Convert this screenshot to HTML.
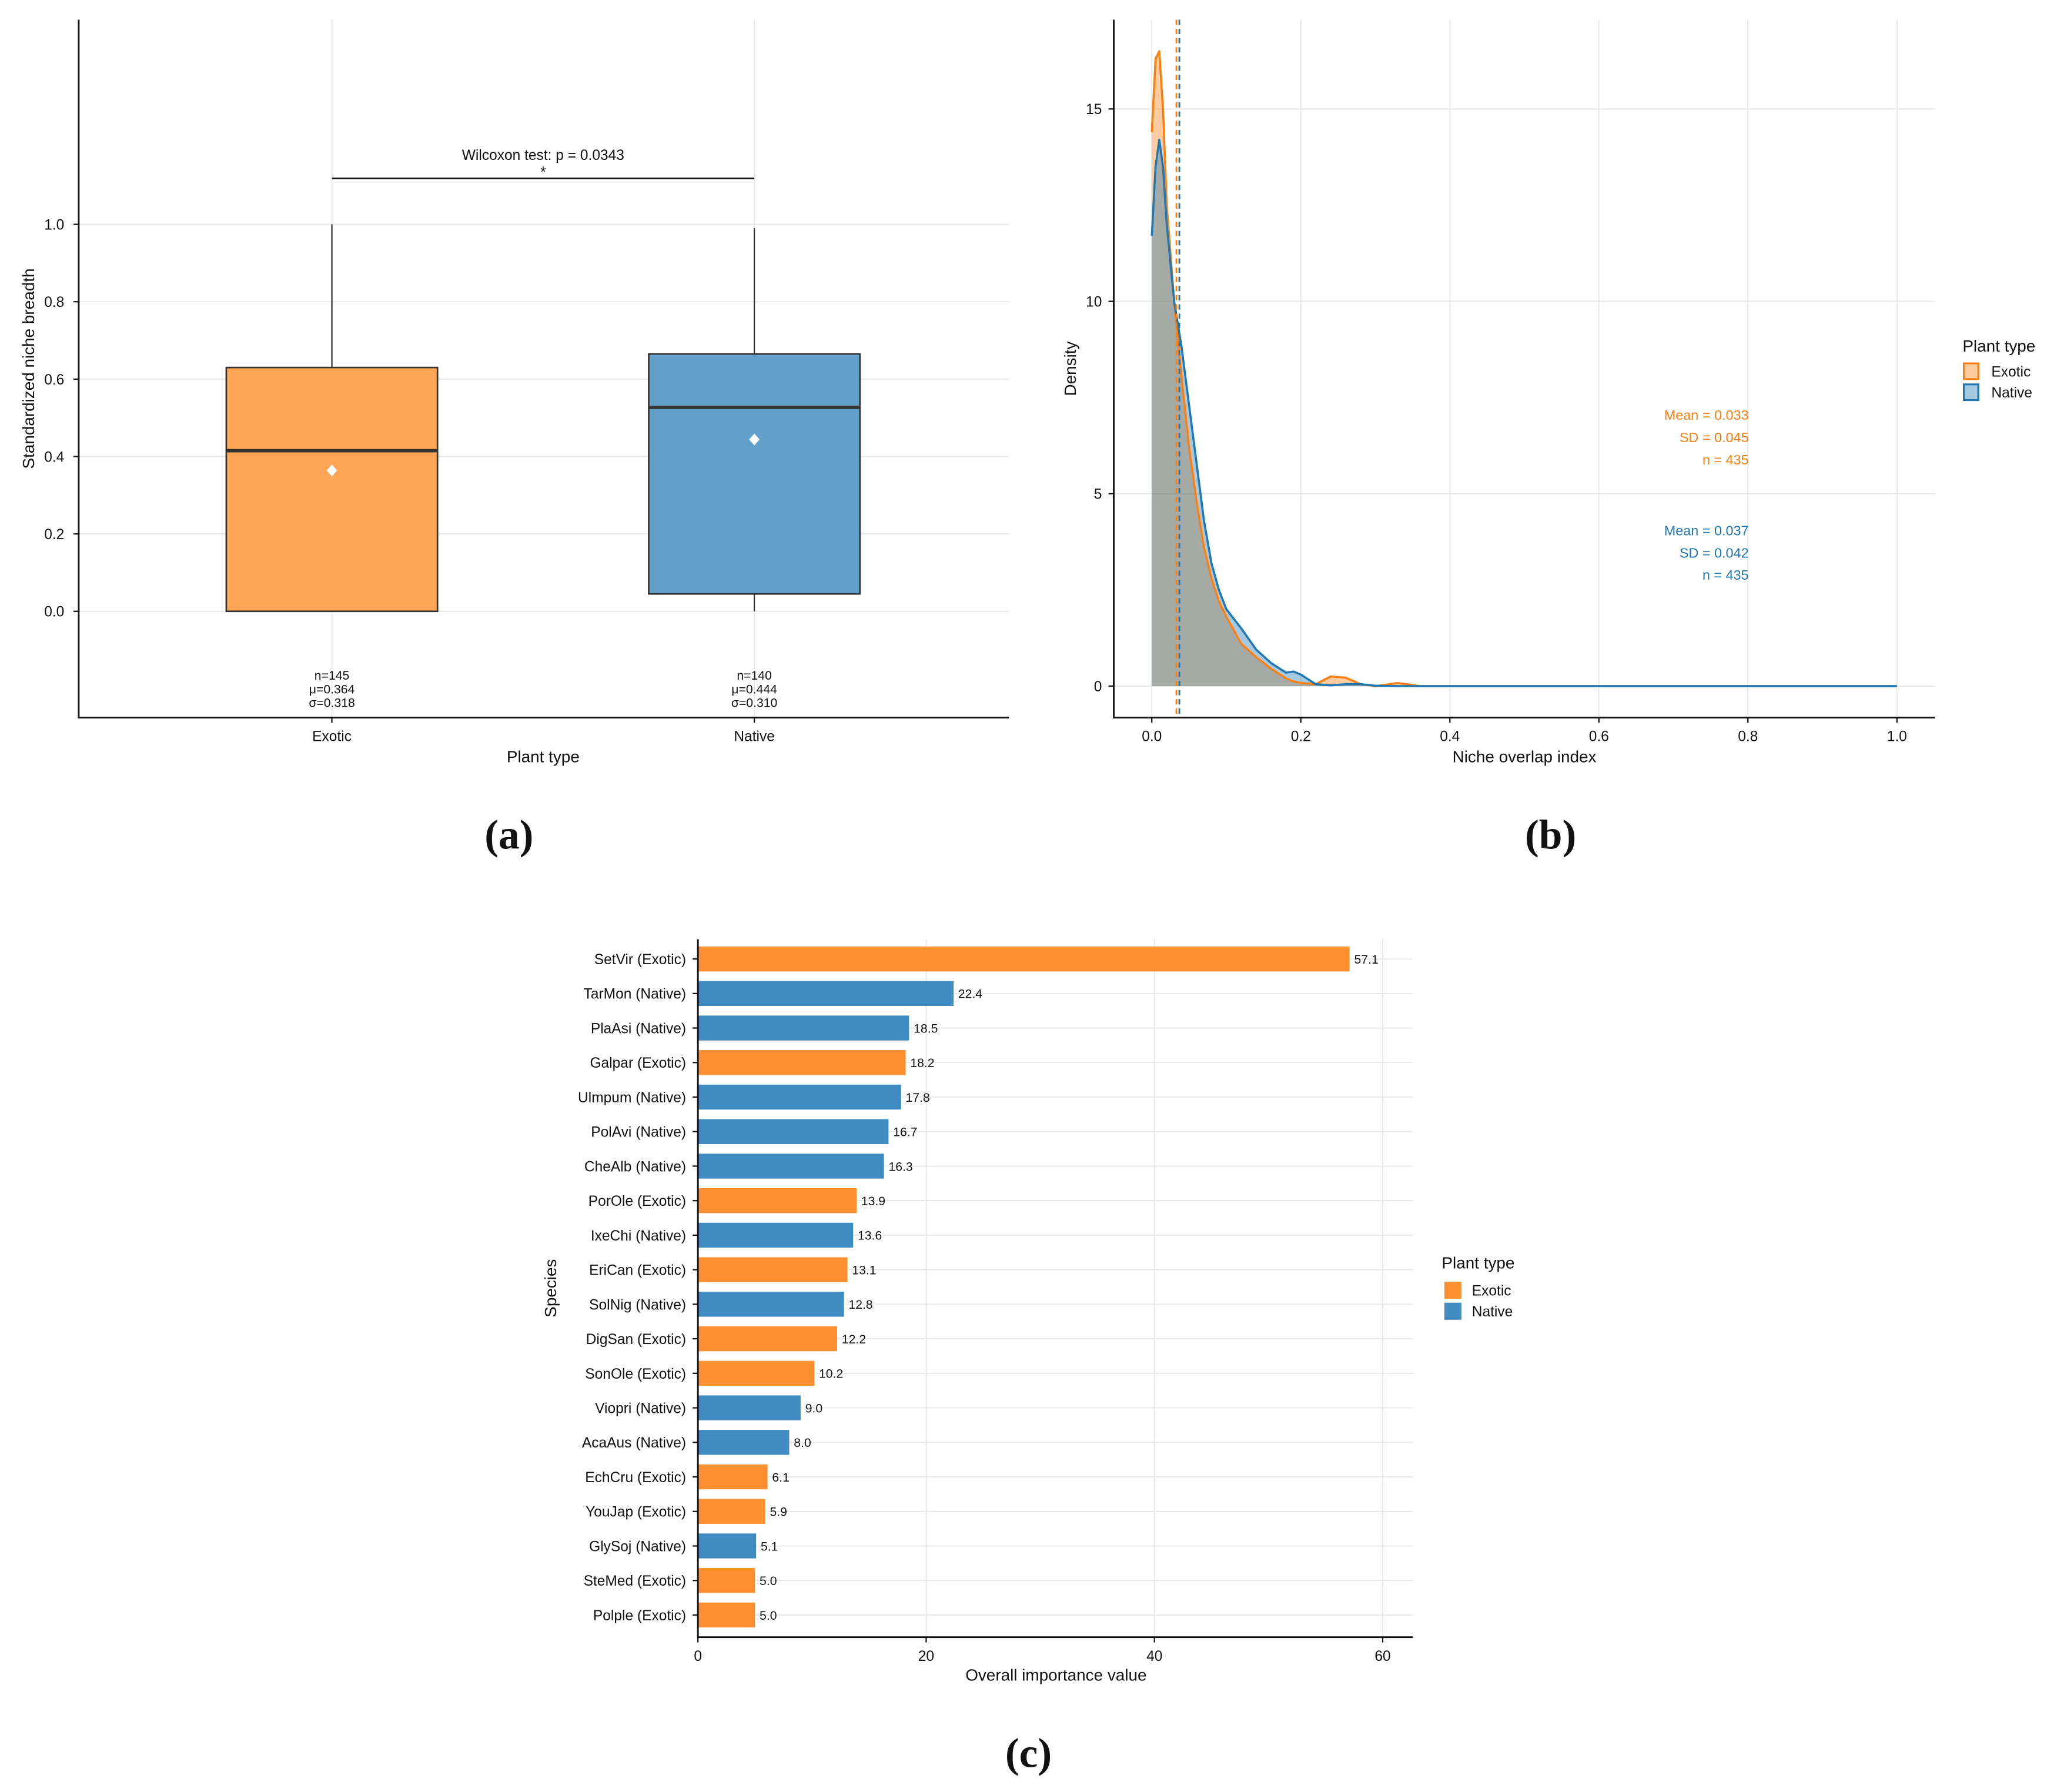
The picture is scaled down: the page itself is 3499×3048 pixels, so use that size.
<!DOCTYPE html>
<html><head><meta charset="utf-8"><style>
html,body{margin:0;padding:0;background:#fff;}
svg{display:block;font-family:"Liberation Sans",Arial,sans-serif;}
</style></head><body>
<svg id="root" width="3499" height="3048" viewBox="0 0 1568 1366" preserveAspectRatio="none" xmlns="http://www.w3.org/2000/svg">
<g id="pa"></g>
<g id="pb"></g>
<g id="pc"></g>
</svg>
<script>
// ---------- Panel (a) data ----------
const boxCategories = ["Exotic", "Native"];
const boxQ1 = [0.0, 0.045];
const boxMedian = [0.415, 0.527];
const boxQ3 = [0.63, 0.665];
const boxWhiskLow = [0.0, 0.0];
const boxWhiskHigh = [1.0, 0.99];
const boxMean = [0.364, 0.444];
const boxN = [145, 140];
const boxSD = [0.318, 0.310];
const boxYTicks = [0, 0.2, 0.4, 0.6, 0.8, 1.0];

// ---------- Panel (b) data ----------
const densX = [0,0.005,0.01,0.015,0.02,0.03,0.04,0.05,0.06,0.07,0.08,0.09,0.1,0.12,0.14,0.16,0.18,0.19,0.2,0.22,0.24,0.26,0.28,0.3,0.33,0.36,0.4,1.0];
const densExotic = [14.4,16.3,16.5,15,12.5,10,8,6.2,4.8,3.6,2.8,2.2,1.8,1.1,0.75,0.45,0.2,0.12,0.08,0.05,0.25,0.22,0.05,0.0,0.08,0,0,0];
const densNative = [11.7,13.5,14.2,13.5,12,10,8.8,7.3,5.8,4.3,3.2,2.5,2.0,1.5,0.95,0.6,0.35,0.38,0.3,0.05,0.02,0.05,0.05,0.01,0,0,0,0];
const densMeans = [0.033, 0.037];
const densSDs = [0.045, 0.042];
const densNs = [435, 435];
const densXTicks = [0,0.2,0.4,0.6,0.8,1.0];
const densYTicks = [0,5,10,15];

// ---------- Panel (c) data ----------
const species = ["SetVir (Exotic)","TarMon (Native)","PlaAsi (Native)","Galpar (Exotic)","Ulmpum (Native)","PolAvi (Native)","CheAlb (Native)","PorOle (Exotic)","IxeChi (Native)","EriCan (Exotic)","SolNig (Native)","DigSan (Exotic)","SonOle (Exotic)","Viopri (Native)","AcaAus (Native)","EchCru (Exotic)","YouJap (Exotic)","GlySoj (Native)","SteMed (Exotic)","Polple (Exotic)"];
const importance = [57.1,22.4,18.5,18.2,17.8,16.7,16.3,13.9,13.6,13.1,12.8,12.2,10.2,9.0,8.0,6.1,5.9,5.1,5.0,5.0];
const plantType = ["Exotic","Native","Native","Exotic","Native","Native","Native","Exotic","Native","Exotic","Native","Exotic","Exotic","Native","Native","Exotic","Exotic","Native","Exotic","Exotic"];
const barXTicks = [0,20,40,60];

const NS="http://www.w3.org/2000/svg";
function mk(parent,tag,attrs,text){const e=document.createElementNS(NS,tag);for(const k in attrs)e.setAttribute(k,attrs[k]);if(text!==undefined)e.textContent=text;parent.appendChild(e);return e;}

// ===== Panel A =====
(function(){
const g=document.getElementById('pa');
const yA=v=>466-v*295;
const xs=[253,575];
const grid='#e6e6e6';
boxYTicks.forEach(t=>{const l=mk(g,'line',{x1:60,x2:769,y1:yA(t),y2:yA(t),stroke:grid,'stroke-width':0.8});
});
xs.forEach(x=>{const l=mk(g,'line',{x1:x,x2:x,y1:15,y2:547,stroke:grid,'stroke-width':0.8});
});
const fills=['#ffa555','#62a0cb'];
boxCategories.forEach((c,i)=>{
 const x=xs[i];
 const w=mk(g,'line',{x1:x,x2:x,y1:yA(boxWhiskHigh[i]),y2:yA(boxWhiskLow[i]),stroke:'#333','stroke-width':1});
 
 const r=mk(g,'rect',{x:x-80.5,width:161,y:yA(boxQ3[i]),height:yA(boxQ1[i])-yA(boxQ3[i]),fill:fills[i],stroke:'#333','stroke-width':1.2});
 
 const m=mk(g,'line',{x1:x-80.5,x2:x+80.5,y1:yA(boxMedian[i]),y2:yA(boxMedian[i]),stroke:'#333','stroke-width':2.6});
 
 const my=yA(boxMean[i]);
 const d=mk(g,'path',{d:`M${x} ${my-4.5}L${x+4} ${my}L${x} ${my+4.5}L${x-4} ${my}Z`,fill:'#fff'});
 
 const lines=['n='+boxN[i],'μ='+boxMean[i].toFixed(3),'σ='+boxSD[i].toFixed(3)];
 lines.forEach((s,j)=>{const t=mk(g,'text',{x:x,y:518+j*10.5,'font-size':9.5,'text-anchor':'middle',fill:'#111'},s);
 });
 const tl=mk(g,'text',{x:x,y:565,'font-size':11,'text-anchor':'middle',fill:'#111'},c);
 
 const tk=mk(g,'line',{x1:x,x2:x,y1:547,y2:551,stroke:'#111','stroke-width':1});
 
});
boxYTicks.forEach(t=>{const tt=mk(g,'text',{x:49,y:yA(t)+4,'font-size':11,'text-anchor':'end',fill:'#111'},t.toFixed(1));

const tk=mk(g,'line',{x1:56,x2:60,y1:yA(t),y2:yA(t),stroke:'#111','stroke-width':1});
});
const br=mk(g,'line',{x1:253,x2:575,y1:136,y2:136,stroke:'#111','stroke-width':1.2});

const wt=mk(g,'text',{x:414,y:122,'font-size':11,'text-anchor':'middle',fill:'#111'},'Wilcoxon test: p = 0.0343');

const st=mk(g,'text',{x:414,y:135,'font-size':11,'text-anchor':'middle',fill:'#111'},'*');

const ax=mk(g,'path',{d:'M60 15V547H769',fill:'none',stroke:'#111','stroke-width':1.3});

const xt=mk(g,'text',{x:414,y:581,'font-size':12.5,'text-anchor':'middle',fill:'#111'},'Plant type');

const yt=mk(g,'text',{x:0,y:0,'font-size':12.5,'text-anchor':'middle',fill:'#111',transform:'translate(26,281) rotate(-90)'},'Standardized niche breadth');

const pl=mk(g,'text',{x:388,y:647,'font-size':32,'text-anchor':'middle',fill:'#111','font-family':'Liberation Serif, serif','font-weight':'bold'},'(a)');

})();

// ===== Panel B =====
(function(){
const g=document.getElementById('pb');
const xB=v=>878+v*568;
const yB=v=>523-v*29.33;
const grid='#e6e6e6';
densXTicks.forEach(t=>{const l=mk(g,'line',{x1:xB(t),x2:xB(t),y1:15,y2:547,stroke:grid,'stroke-width':0.8});
});
densYTicks.forEach(t=>{const l=mk(g,'line',{x1:849,x2:1475,y1:yB(t),y2:yB(t),stroke:grid,'stroke-width':0.8});
});
function areaPath(arr){let d=`M${xB(densX[0])} ${yB(0)}`;densX.forEach((x,i)=>d+=`L${xB(x)} ${yB(arr[i])}`);d+=`L${xB(densX[densX.length-1])} ${yB(0)}Z`;return d;}
function linePath(arr){let d='';densX.forEach((x,i)=>d+=(i?'L':'M')+xB(x)+' '+yB(arr[i]));return d;}
const fe=mk(g,'path',{d:areaPath(densExotic),fill:'rgba(255,127,14,0.4)'});

const fn=mk(g,'path',{d:areaPath(densNative),fill:'rgba(31,119,180,0.4)'});

const le=mk(g,'path',{d:linePath(densExotic),fill:'none',stroke:'#ff7f0e','stroke-width':1.6,'stroke-linejoin':'round'});

const ln=mk(g,'path',{d:linePath(densNative),fill:'none',stroke:'#1f77b4','stroke-width':1.6,'stroke-linejoin':'round'});

const cols=['#ff7f0e','#1f77b4'];
densMeans.forEach((m,i)=>{const l=mk(g,'line',{x1:xB(m),x2:xB(m),y1:15,y2:547,stroke:cols[i],'stroke-width':1.3,'stroke-dasharray':'4 3'});

const base=i?404:316;
['Mean = '+m.toFixed(3),'SD = '+densSDs[i].toFixed(3),'n = '+densNs[i]].forEach((s,j)=>{
const t=mk(g,'text',{x:1333,y:base+4+j*17,'font-size':10.5,'text-anchor':'end',fill:cols[i]},s);
});
});
densXTicks.forEach(t=>{const tt=mk(g,'text',{x:xB(t),y:565,'font-size':11,'text-anchor':'middle',fill:'#111'},t.toFixed(1));

const tk=mk(g,'line',{x1:xB(t),x2:xB(t),y1:547,y2:551,stroke:'#111'});
});
densYTicks.forEach(t=>{const tt=mk(g,'text',{x:840,y:yB(t)+4,'font-size':11,'text-anchor':'end',fill:'#111'},t);

const tk=mk(g,'line',{x1:845,x2:849,y1:yB(t),y2:yB(t),stroke:'#111'});
});
const ax=mk(g,'path',{d:'M849 15V547H1475',fill:'none',stroke:'#111','stroke-width':1.3});

const xt=mk(g,'text',{x:1162,y:581,'font-size':12.5,'text-anchor':'middle',fill:'#111'},'Niche overlap index');

const yt=mk(g,'text',{x:0,y:0,'font-size':12.5,'text-anchor':'middle',fill:'#111',transform:'translate(820,281) rotate(-90)'},'Density');

const lt=mk(g,'text',{x:1496,y:268,'font-size':12.5,fill:'#111'},'Plant type');

['Exotic','Native'].forEach((s,i)=>{const y=277+i*16;
const r=mk(g,'rect',{x:1497,y:y,width:11,height:12,fill:i?'rgba(31,119,180,0.4)':'rgba(255,127,14,0.4)',stroke:cols[i],'stroke-width':1.4});

const t=mk(g,'text',{x:1518,y:y+10,'font-size':11,fill:'#111'},s);
});
const pl=mk(g,'text',{x:1182,y:647,'font-size':32,'text-anchor':'middle',fill:'#111','font-family':'Liberation Serif, serif','font-weight':'bold'},'(b)');

})();

// ===== Panel C =====
(function(){
const g=document.getElementById('pc');
const xC=v=>532+v*8.7;
const yC=i=>731+i*26.32;
const grid='#e6e6e6';
barXTicks.forEach(t=>{const l=mk(g,'line',{x1:xC(t),x2:xC(t),y1:716,y2:1248,stroke:grid,'stroke-width':0.8});
});
species.forEach((s,i)=>{const l=mk(g,'line',{x1:532,x2:1077,y1:yC(i),y2:yC(i),stroke:grid,'stroke-width':0.8});
});
const col={Exotic:'#ff9032',Native:'#3f8bc2'};
species.forEach((s,i)=>{
 const b=mk(g,'rect',{x:532,y:yC(i)-9.5,width:xC(importance[i])-532,height:19,fill:col[plantType[i]]});
 
 const v=mk(g,'text',{x:xC(importance[i])+3.5,y:yC(i)+3.5,'font-size':9.5,fill:'#111'},importance[i].toFixed(1));
 
 const t=mk(g,'text',{x:523,y:yC(i)+4,'font-size':11,'text-anchor':'end',fill:'#111'},s);
 
 const tk=mk(g,'line',{x1:528,x2:532,y1:yC(i),y2:yC(i),stroke:'#111'});
 
});
barXTicks.forEach(t=>{const tt=mk(g,'text',{x:xC(t),y:1266,'font-size':11,'text-anchor':'middle',fill:'#111'},t);

const tk=mk(g,'line',{x1:xC(t),x2:xC(t),y1:1248,y2:1252,stroke:'#111'});
});
const ax=mk(g,'path',{d:'M532 716V1248H1077',fill:'none',stroke:'#111','stroke-width':1.3});

const xt=mk(g,'text',{x:805,y:1281,'font-size':12.5,'text-anchor':'middle',fill:'#111'},'Overall importance value');

const yt=mk(g,'text',{x:0,y:0,'font-size':12.5,'text-anchor':'middle',fill:'#111',transform:'translate(424,982) rotate(-90)'},'Species');

const lt=mk(g,'text',{x:1099,y:967,'font-size':12.5,fill:'#111'},'Plant type');

['Exotic','Native'].forEach((s,i)=>{const y=977+i*16;
const r=mk(g,'rect',{x:1101,y:y,width:13,height:13,fill:col[s]});

const t=mk(g,'text',{x:1122,y:y+10.5,'font-size':11,fill:'#111'},s);
});
const pl=mk(g,'text',{x:784,y:1347,'font-size':32,'text-anchor':'middle',fill:'#111','font-family':'Liberation Serif, serif','font-weight':'bold'},'(c)');

})();
</script>
</body></html>
